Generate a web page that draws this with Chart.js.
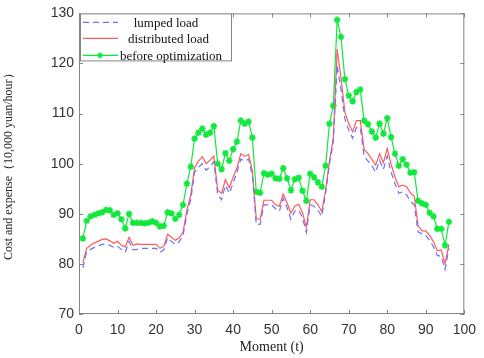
<!DOCTYPE html>
<html>
<head>
<meta charset="utf-8">
<title>Cost and expense by moment</title>
<script src="https://cdn.jsdelivr.net/npm/chart.js@4.4.1/dist/chart.umd.min.js"></script>
<style>
    html, body { margin: 0; padding: 0; background: #fff; }
    #wrap { width: 484px; height: 358px; position: relative; }
</style>
</head>
<body>
<div id="wrap"><canvas id="costChart"></canvas></div>
<script>
// Moments t = 1..96 (15-minute steps)
const moments = Array.from({ length: 96 }, (_, i) => i + 1);

// Values (10,000 yuan/hour)
const lumpedLoad = [
    79.2, 82.4, 82.9, 83.3, 83.6, 83.9, 84.0, 83.7, 83.3, 83.5,
    82.9, 82.3, 84.5, 82.8, 82.9, 83.1, 83.1, 83.1, 83.1, 83.1,
    82.3, 82.8, 85.2, 84.5, 83.9, 84.4, 85.7, 89.9, 92.8, 98.3,
    99.3, 100.0, 98.7, 99.4, 100.4, 93.8, 92.8, 95.7, 94.1, 96.1,
    98.3, 100.9, 100.5, 100.9, 97.6, 87.9, 87.9, 91.8, 91.8, 91.8,
    91.0, 90.5, 93.1, 91.2, 88.9, 90.5, 90.8, 89.2, 86.3, 91.8,
    91.5, 90.7, 89.5, 94.1, 99.9, 104.4, 119.6, 114.8, 109.0, 106.7,
    105.1, 107.2, 107.2, 101.5, 100.5, 99.6, 98.3, 100.7, 98.9, 101.5,
    98.3, 96.0, 94.1, 94.4, 93.8, 92.5, 91.8, 86.4, 86.0, 85.7,
    84.7, 83.4, 81.7, 81.5, 78.9, 83.1
];
const distributedLoad = [
    80.2, 83.1, 83.7, 84.2, 84.5, 84.9, 85.0, 84.6, 84.1, 84.5,
    83.7, 83.4, 85.3, 83.7, 84.0, 83.9, 83.9, 83.9, 83.9, 83.9,
    83.1, 83.5, 85.9, 85.3, 84.7, 85.2, 86.3, 90.8, 93.7, 99.2,
    100.5, 101.4, 100.0, 100.7, 101.5, 94.7, 94.1, 96.8, 95.2, 97.3,
    99.2, 102.0, 101.5, 101.8, 98.6, 89.0, 88.9, 92.7, 92.7, 92.7,
    91.8, 91.5, 93.9, 92.2, 90.1, 91.5, 91.9, 90.2, 87.3, 92.8,
    92.8, 91.8, 90.5, 94.7, 100.5, 105.1, 122.9, 117.1, 110.3, 108.0,
    106.4, 108.6, 108.6, 102.8, 102.0, 100.9, 99.7, 102.0, 100.2, 103.0,
    99.9, 97.3, 95.4, 95.7, 95.4, 94.2, 93.5, 87.6, 86.6, 86.6,
    85.7, 84.4, 82.6, 82.8, 80.0, 83.9
];
const beforeOptimization = [
    85.1, 88.6, 89.5, 89.8, 90.1, 90.3, 90.8, 90.7, 89.8, 90.1,
    88.9, 87.1, 90.0, 88.2, 88.2, 88.2, 88.1, 88.2, 88.5, 88.2,
    87.5, 87.6, 90.3, 90.1, 89.0, 89.8, 91.8, 96.0, 99.4, 105.0,
    106.2, 107.0, 105.8, 106.2, 107.5, 100.0, 98.9, 102.1, 100.6, 102.9,
    104.4, 108.6, 108.0, 108.4, 105.2, 94.4, 94.2, 98.1, 97.8, 98.0,
    97.1, 97.0, 99.1, 97.1, 94.7, 96.9, 97.2, 94.6, 92.6, 98.0,
    97.3, 96.3, 95.4, 99.6, 108.0, 111.6, 128.7, 125.3, 116.9, 113.6,
    112.5, 114.3, 114.8, 108.6, 107.9, 106.4, 105.2, 108.0, 106.0, 109.1,
    105.3, 102.0, 99.6, 100.9, 99.8, 98.2, 98.3, 92.6, 92.1, 91.8,
    90.2, 89.5, 87.0, 87.0, 83.7, 88.4
];

const seriesNames = ['lumped load', 'distributed load', 'before optimization'];
const seriesColors = ['#6f6fff', '#ff5a5a', '#10e83c'];

const xTicks = [0, 10, 20, 30, 40, 50, 60, 70, 80, 90, 100];
const yTicks = [70, 80, 90, 100, 110, 120, 130];

function toPoints(values) {
    return values.map((v, i) => ({ x: moments[i], y: v }));
}

// Box around the plot with inward tick marks (MATLAB look)
const boxPlugin = {
    id: 'boxPlugin',
    afterDatasetsDraw(chart) {
        const { ctx, chartArea, scales } = chart;
        const { left, right, top, bottom } = chartArea;
        ctx.save();
        ctx.strokeStyle = '#858585';
        ctx.lineWidth = 1;
        ctx.strokeRect(left + 0.5, top + 0.5, right - left - 1, bottom - top - 1);
        ctx.beginPath();
        xTicks.forEach(v => {
            const px = Math.round(scales.x.getPixelForValue(v)) + 0.5;
            ctx.moveTo(px, bottom);
            ctx.lineTo(px, bottom - 4);
            ctx.moveTo(px, top);
            ctx.lineTo(px, top + 4);
        });
        yTicks.forEach(v => {
            const py = Math.round(scales.y.getPixelForValue(v)) + 0.5;
            ctx.moveTo(left, py);
            ctx.lineTo(left + 4, py);
            ctx.moveTo(right, py);
            ctx.lineTo(right - 4, py);
        });
        ctx.stroke();
        ctx.restore();
    }
};

// Legend box in the upper left corner of the plot
const legendPlugin = {
    id: 'legendPlugin',
    afterDraw(chart) {
        const { ctx, chartArea } = chart;
        const x0 = chartArea.left + 1;
        const y0 = chartArea.top;
        const w = 151;
        const h = 47;
        ctx.save();
        ctx.fillStyle = '#ffffff';
        ctx.fillRect(x0, y0, w, h);
        ctx.strokeStyle = '#858585';
        ctx.lineWidth = 1;
        ctx.strokeRect(x0 + 0.5, y0 + 0.5, w, h);

        const rows = [y0 + 9, y0 + 25, y0 + 42];
        ctx.font = '13px "Liberation Serif", "Times New Roman", serif';
        ctx.textBaseline = 'middle';
        ctx.textAlign = 'center';
        seriesNames.forEach((name, i) => {
            const ry = rows[i];
            ctx.strokeStyle = seriesColors[i];
            ctx.lineWidth = 1.2;
            ctx.setLineDash(i === 0 ? [6, 4] : []);
            ctx.beginPath();
            ctx.moveTo(x0 + 3, ry);
            ctx.lineTo(x0 + 38, ry);
            ctx.stroke();
            ctx.setLineDash([]);
            if (i === 2) {
                const cx = x0 + 20;
                ctx.beginPath();
                for (let k = 0; k < 4; k++) {
                    const a = k * Math.PI / 4;
                    ctx.moveTo(cx - 3 * Math.cos(a), ry - 3 * Math.sin(a));
                    ctx.lineTo(cx + 3 * Math.cos(a), ry + 3 * Math.sin(a));
                }
                ctx.stroke();
            }
            ctx.fillStyle = '#111';
            ctx.fillText(name, x0 + 86 + i * 2.5, ry + 1);
        });
        ctx.restore();
    }
};

document.addEventListener('DOMContentLoaded', function() {
    const ctx = document.getElementById('costChart');

    new Chart(ctx, {
        type: 'line',
        data: {
            datasets: [
                {
                    label: seriesNames[0],
                    data: toPoints(lumpedLoad),
                    borderColor: seriesColors[0],
                    borderWidth: 1.2,
                    borderDash: [6, 4],
                    pointRadius: 0,
                    tension: 0
                },
                {
                    label: seriesNames[1],
                    data: toPoints(distributedLoad),
                    borderColor: seriesColors[1],
                    borderWidth: 1.2,
                    pointRadius: 0,
                    tension: 0
                },
                {
                    label: seriesNames[2],
                    data: toPoints(beforeOptimization),
                    borderColor: seriesColors[2],
                    backgroundColor: seriesColors[2],
                    borderWidth: 1.2,
                    pointStyle: 'star',
                    pointRadius: 3.3,
                    pointBorderWidth: 1.6,
                    tension: 0
                }
            ]
        },
        options: {
            responsive: true,
            maintainAspectRatio: false,
            animation: false,
            layout: {
                padding: { left: 0, right: 14, top: 5, bottom: 0 }
            },
            plugins: {
                legend: { display: false },
                tooltip: { enabled: false }
            },
            scales: {
                x: {
                    type: 'linear',
                    min: 0,
                    max: 100,
                    afterFit: s => { s.height = 44; },
                    afterBuildTicks: s => { s.ticks = xTicks.map(v => ({ value: v })); },
                    grid: { display: false, drawTicks: false },
                    border: { display: false },
                    ticks: {
                        padding: 8,
                        color: '#333',
                        font: { family: '"Liberation Sans", Arial, sans-serif', size: 14 }
                    },
                    title: {
                        display: true,
                        text: 'Moment (t)',
                        color: '#222',
                        padding: { top: 0, bottom: 2 },
                        font: { family: '"Liberation Serif", "Times New Roman", serif', size: 14 }
                    }
                },
                y: {
                    min: 70,
                    max: 130,
                    afterFit: s => { s.width = 79; },
                    afterBuildTicks: s => { s.ticks = yTicks.map(v => ({ value: v })); },
                    grid: { display: false, drawTicks: false },
                    border: { display: false },
                    ticks: {
                        padding: 5,
                        color: '#333',
                        font: { family: '"Liberation Sans", Arial, sans-serif', size: 14 }
                    },
                    title: {
                        display: true,
                        text: 'Cost and expense（10,000 yuan/hour）',
                        color: '#222',
                        padding: { top: 2, bottom: 0 },
                        font: { family: '"Liberation Serif", "Times New Roman", serif', size: 12 }
                    }
                }
            }
        },
        plugins: [boxPlugin, legendPlugin]
    });
});
</script>
</body>
</html>
